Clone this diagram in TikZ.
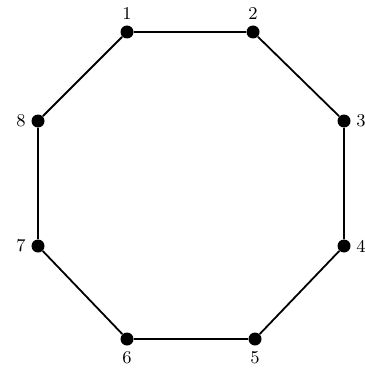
\documentclass[tikz,border=0pt]{standalone}
\usepackage{tikz}
\usetikzlibrary{positioning}

\begin{document}
\begin{tikzpicture}[
    x=0.5pt, y=-0.5pt,
    vtx/.style={
        circle,
        fill=black,
        inner sep=0pt,
        minimum size=6.5pt
    },
    lbl/.style={font=\fontsize{9}{10}\selectfont, inner sep=1pt},
    edge/.style={draw=black, line width=0.9pt},
    label distance=1.5pt
]
\useasboundingbox (0,0) rectangle (364,374);

\node[vtx, label={[lbl]above:1}] (v1) at (127,32) {};
\node[vtx, label={[lbl]above:2}] (v2) at (253,32) {};
\node[vtx, label={[lbl]right:3}] (v3) at (344,121) {};
\node[vtx, label={[lbl]right:4}] (v4) at (344,246) {};
\node[vtx, label={[lbl]below:5}] (v5) at (255,339) {};
\node[vtx, label={[lbl]below:6}] (v6) at (127,339) {};
\node[vtx, label={[lbl]left:7}] (v7) at (38,246) {};
\node[vtx, label={[lbl]left:8}] (v8) at (38,121) {};

\draw[edge] (v1) -- (v2) -- (v3) -- (v4) -- (v5) -- (v6) -- (v7) -- (v8) -- (v1);

\end{tikzpicture}
\end{document}
